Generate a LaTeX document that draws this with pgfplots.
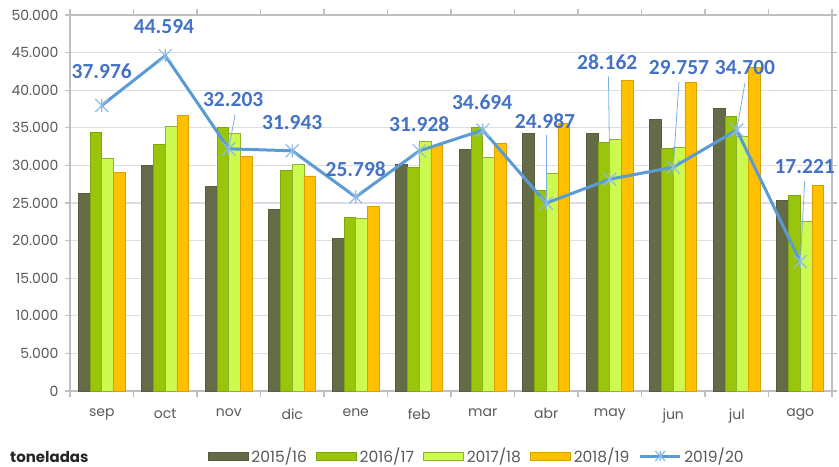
\documentclass[border=0pt]{standalone}
\usepackage{pgfplots}
\pgfplotsset{compat=1.18}
\usepackage{fontspec}
\setmainfont{Poppins}
\newfontfamily\lblfont{Carlito}

\definecolor{cdark}{HTML}{666B47}
\definecolor{cdarkd}{HTML}{575C3A}
\definecolor{cgreen}{HTML}{99C60B}
\definecolor{cgreend}{HTML}{7FA60A}
\definecolor{clight}{HTML}{CCFA4F}
\definecolor{clightd}{HTML}{8DB32B}
\definecolor{corange}{HTML}{FFC000}
\definecolor{coranged}{HTML}{D9A000}
\definecolor{lineblue}{HTML}{5B9BD5}
\definecolor{markblue}{HTML}{8FBCE6}
\definecolor{lblblue}{HTML}{4472C4}
\definecolor{tickgray}{HTML}{595959}
\definecolor{gridc}{HTML}{D9DFE4}
\definecolor{axgray}{HTML}{BFBFBF}

% Excel-like star: an x plus a vertical stroke
\pgfdeclareplotmark{xstar}{%
  \pgfpathmoveto{\pgfqpoint{-\pgfplotmarksize}{-\pgfplotmarksize}}%
  \pgfpathlineto{\pgfqpoint{\pgfplotmarksize}{\pgfplotmarksize}}%
  \pgfpathmoveto{\pgfqpoint{-\pgfplotmarksize}{\pgfplotmarksize}}%
  \pgfpathlineto{\pgfqpoint{\pgfplotmarksize}{-\pgfplotmarksize}}%
  \pgfpathmoveto{\pgfqpoint{0pt}{-\pgfplotmarksize}}%
  \pgfpathlineto{\pgfqpoint{0pt}{\pgfplotmarksize}}%
  \pgfusepathqstroke}

\pgfplotsset{
  barleg/.style={legend image code/.code={\draw[##1] (0pt,-4pt) rectangle (40pt,4pt);}},
  lineleg/.style={legend image code/.code={%
    \draw[##1, mark repeat=2, mark phase=2, mark size=5pt] plot coordinates {(0pt,0pt) (20pt,0pt) (40pt,0pt)};}},
}

\begin{document}
\begin{tikzpicture}[
  lbl/.style={font=\lblfont\bfseries\fontsize{21.5}{22}\selectfont, text=lblblue, inner sep=0pt},
  leader/.style={draw=lineblue!80, line width=0.8pt},
]
\begin{axis}[
  name=ax,
  scale only axis,
  width=762pt, height=376pt,
  xmin=-0.5, xmax=11.5,
  ymin=0, ymax=50000,
  ybar=0pt,
  bar width=0.184,
  clip=false,
  xtick={0,...,11},
  xticklabels={sep,oct,nov,dic,ene,feb,mar,abr,may,jun,jul,ago},
  minor xtick={-0.5,0.5,...,11.5},
  ytick={0,5000,...,50000},
  scaled y ticks=false,
  /pgf/number format/1000 sep={.},
  /pgf/number format/assume math mode=true,
  tick align=outside,
  major tick length=5pt,
  minor tick length=6pt,
  major x tick style={draw=none},
  minor x tick style={draw=axgray, line width=1.2pt},
  major y tick style={draw=axgray, line width=1.2pt},
  ymajorgrids,
  major grid style={draw=gridc, line width=1.2pt},
  axis line style={draw=axgray, line width=1.5pt},
  tick label style={font=\fontsize{14}{14}\selectfont, text=tickgray},
  xticklabel style={yshift=-9pt},
  yticklabel style={xshift=-3pt},
  legend columns=5,
  legend style={at={(0.181,-0.173)}, anchor=west, draw=none, fill=none,
    inner sep=0pt, font=\fontsize{15.5}{16}\selectfont, text=tickgray,
    /tikz/every even column/.append style={column sep=7pt},
    nodes={inner sep=2.5pt}},
]
\addplot[barleg, fill=cdark, draw=cdarkd, line width=0.8pt] coordinates {
  (0,26300) (1,30000) (2,27200) (3,24200) (4,20300) (5,30100)
  (6,32100) (7,34200) (8,34300) (9,36100) (10,37600) (11,25300)};
\addplot[barleg, fill=cgreen, draw=cgreend, line width=0.8pt] coordinates {
  (0,34400) (1,32800) (2,35100) (3,29300) (4,23100) (5,29700)
  (6,35100) (7,26700) (8,33100) (9,32300) (10,36500) (11,26000)};
\addplot[barleg, fill=clight, draw=clightd, line width=0.8pt] coordinates {
  (0,30900) (1,35200) (2,34300) (3,30100) (4,23000) (5,33200)
  (6,31100) (7,29000) (8,33500) (9,32400) (10,33800) (11,22600)};
\addplot[barleg, fill=corange, draw=coranged, line width=0.8pt] coordinates {
  (0,29100) (1,36700) (2,31200) (3,28600) (4,24600) (5,32700)
  (6,32900) (7,35600) (8,41300) (9,41000) (10,43000) (11,27300)};
\addplot[sharp plot, lineleg, draw=lineblue, line width=3pt, mark=xstar, mark size=6.5pt,
  mark options={draw=markblue, line width=1.2pt}] coordinates {
  (0,37976) (1,44594) (2,32203) (3,31943) (4,25798) (5,31928)
  (6,34694) (7,24987) (8,28162) (9,29757) (10,34700) (11,17221)};
\legend{2015/16,2016/17,2017/18,2018/19,2019/20}

% data labels of the 2019/20 series
\node[lbl] at (axis cs:0,42550) {37.976};
\node[lbl] at (axis cs:0.98,48400) {44.594};
\node[lbl] at (axis cs:2.07,38700) {32.203};
\node[lbl] at (axis cs:3.0,35640) {31.943};
\node[lbl] at (axis cs:4.0,29520) {25.798};
\node[lbl] at (axis cs:5.0,35500) {31.928};
\node[lbl] at (axis cs:5.99,38430) {34.694};
\node[lbl] at (axis cs:6.98,35900) {24.987};
\node[lbl] at (axis cs:7.96,43750) {28.162};
\node[lbl] at (axis cs:9.09,43080) {29.757};
\node[lbl] at (axis cs:10.13,42950) {34.700};
\node[lbl] at (axis cs:11.07,29790) {17.221};
% leader lines
\draw[leader] (axis cs:2.1,36800) -- (axis cs:2,32203);
\draw[leader] (axis cs:7,34000) -- (axis cs:7,24987);
\draw[leader] (axis cs:7.98,41800) -- (axis cs:8,28162);
\draw[leader] (axis cs:9.09,41100) -- (axis cs:9,29757);
\draw[leader] (axis cs:10.13,41000) -- (axis cs:10,34700);
\draw[leader] (axis cs:11.07,27900) -- (axis cs:11,17221);
\end{axis}
\node[anchor=west, inner sep=0pt, font=\bfseries\fontsize{15}{15}\selectfont, text=black!85]
  at ([xshift=-60pt, yshift=-66pt]ax.south west) {toneladas};
\pgfresetboundingbox
\path[use as bounding box] ([xshift=-70pt, yshift=-76pt]ax.south west)
  rectangle ([xshift=7pt, yshift=15pt]ax.north east);
\end{tikzpicture}
\end{document}
